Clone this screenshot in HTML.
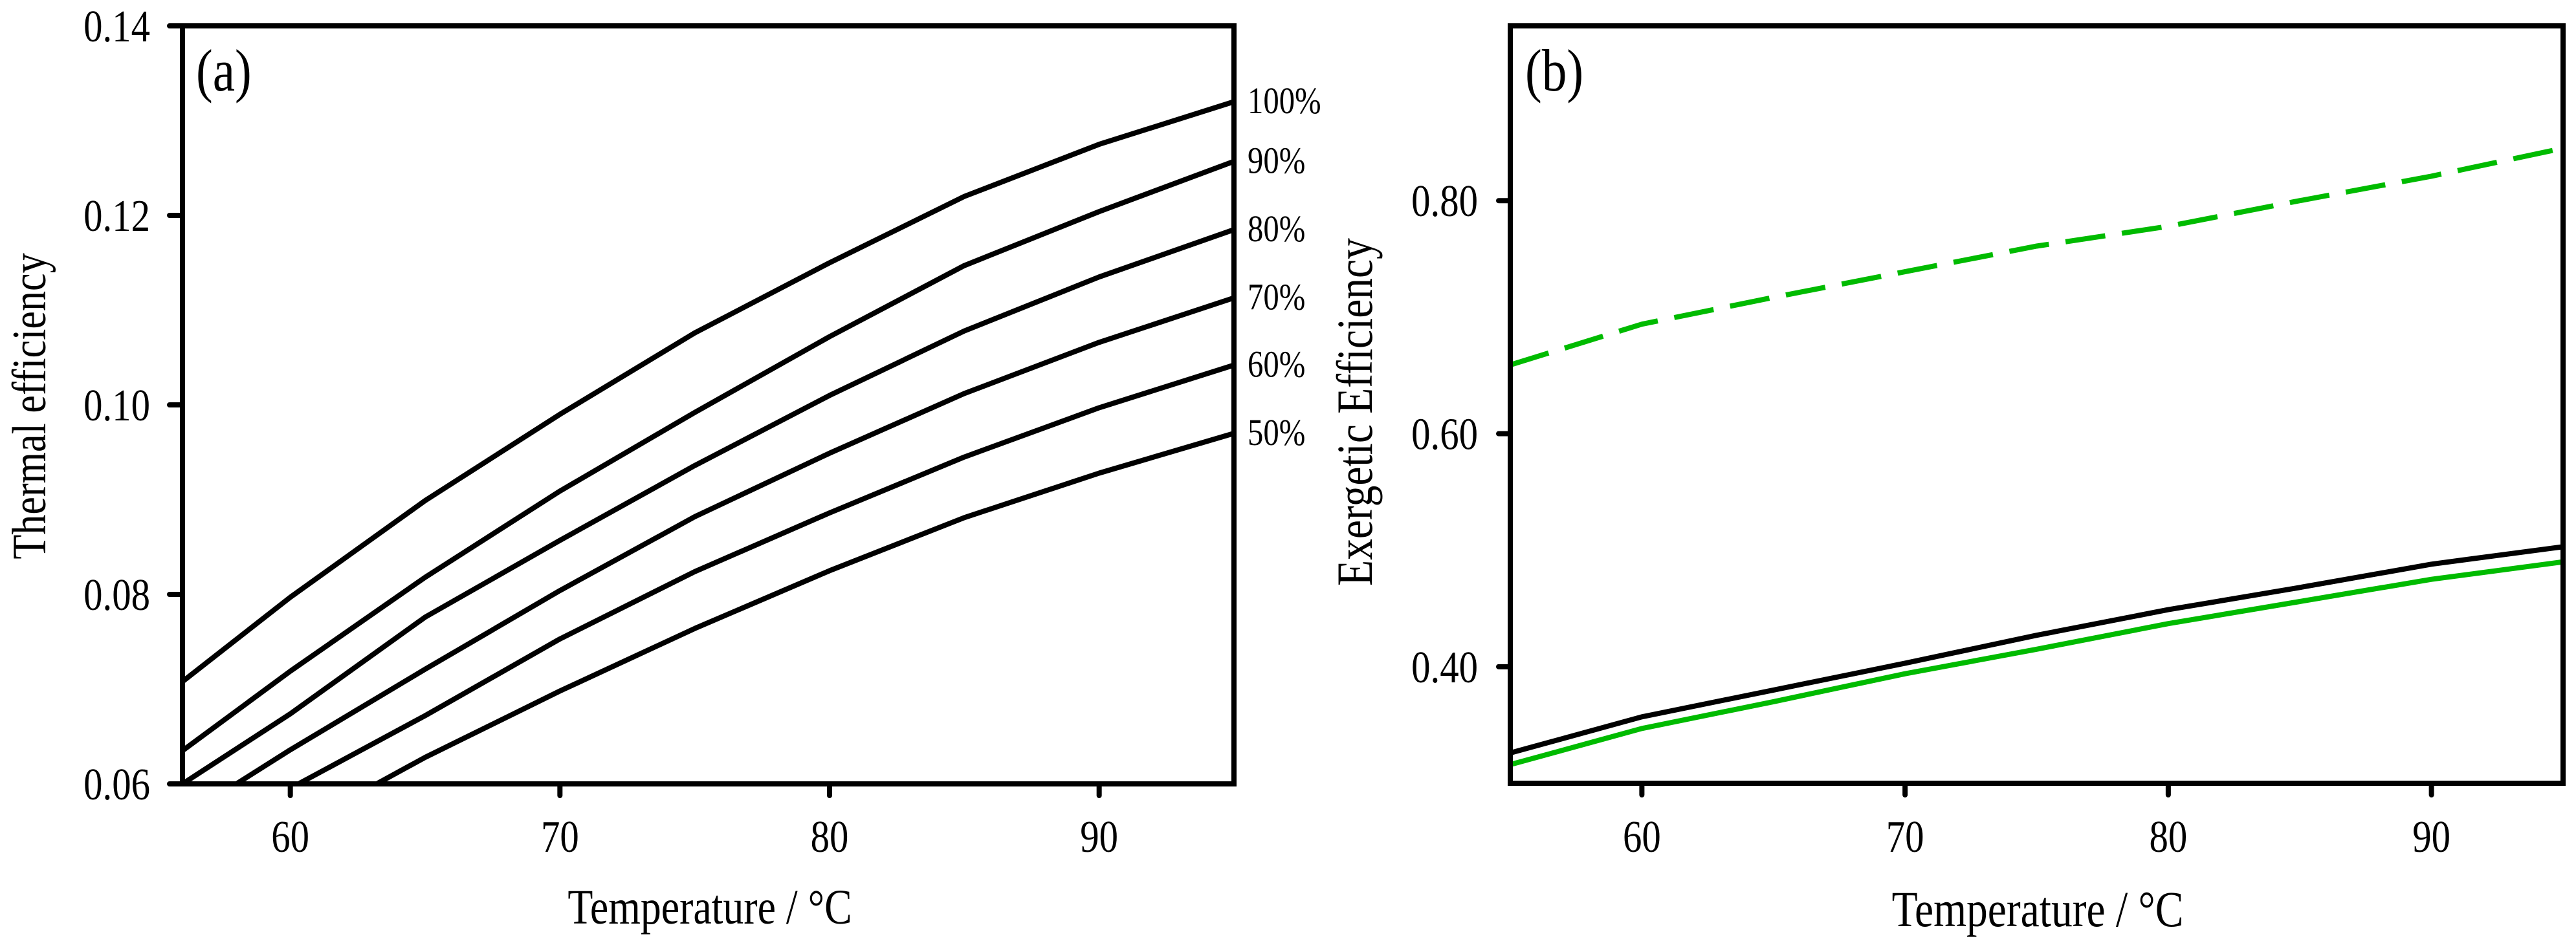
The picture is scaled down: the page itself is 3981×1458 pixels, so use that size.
<!DOCTYPE html>
<html><head><meta charset="utf-8"><style>
html,body{margin:0;padding:0;background:#fff;}
svg{display:block;}
text{font-family:"Liberation Serif","Times New Roman",serif;}
</style></head><body>
<svg id="chart" width="3981" height="1458" viewBox="0 0 3981 1458" xmlns="http://www.w3.org/2000/svg">
<defs>
<clipPath id="clipA"><rect x="282" y="40" width="1625" height="1172"/></clipPath>
<clipPath id="clipB"><rect x="2334" y="40" width="1627" height="1171"/></clipPath>
</defs>
<g id="panelA"></g>
<g id="panelB"></g>
</svg>
<script>
// ---- Panel (a) data ----
const aXTicks = [60, 70, 80, 90];
const aYTicks = [0.06, 0.08, 0.10, 0.12, 0.14];
const aYTickLabels = ["0.06", "0.08", "0.10", "0.12", "0.14"];
const aSeriesNames = ["100%", "90%", "80%", "70%", "60%", "50%"];
const aX100 = [56, 60, 65, 70, 75, 80, 85, 90, 95];
const aY100 = [0.0708, 0.0797, 0.0899, 0.0990, 0.1076, 0.1150, 0.1220, 0.1275, 0.1320];
const aX90 = [56, 60, 65, 70, 75, 80, 85, 90, 95];
const aY90 = [0.0635, 0.0719, 0.0818, 0.0909, 0.0992, 0.1072, 0.1147, 0.1204, 0.1257];
const aX80 = [56, 60, 65, 70, 75, 80, 85, 90, 95];
const aY80 = [0.0600, 0.0674, 0.0776, 0.0857, 0.0936, 0.1010, 0.1078, 0.1135, 0.1185];
const aX70 = [58, 60, 65, 70, 75, 80, 85, 90, 95];
const aY70 = [0.0600, 0.0636, 0.0721, 0.0804, 0.0882, 0.0949, 0.1012, 0.1066, 0.1113];
const aX60 = [60.3, 65, 70, 75, 80, 85, 90, 95];
const aY60 = [0.0600, 0.0672, 0.0753, 0.0824, 0.0886, 0.0945, 0.0997, 0.1042];
const aX50 = [63.2, 65, 70, 75, 80, 85, 90, 95];
const aY50 = [0.0600, 0.0628, 0.0698, 0.0764, 0.0825, 0.0881, 0.0928, 0.0970];

// ---- Panel (b) data ----
const bXTicks = [60, 70, 80, 90];
const bYTicks = [0.40, 0.60, 0.80];
const bYTickLabels = ["0.40", "0.60", "0.80"];
const bX = [55, 60, 65, 70, 75, 80, 85, 90, 95];
const bGreenDashed = [0.659, 0.694, 0.717, 0.739, 0.761, 0.778, 0.800, 0.821, 0.845];
const bBlack = [0.326, 0.357, 0.380, 0.403, 0.427, 0.449, 0.468, 0.488, 0.503];
const bGreenSolid = [0.316, 0.347, 0.370, 0.394, 0.415, 0.437, 0.456, 0.475, 0.490];

const NS = "http://www.w3.org/2000/svg";
const SX = 0.84;
function mk(parent, tag, attrs, text) {
  const e = document.createElementNS(NS, tag);
  for (const k in attrs) e.setAttribute(k, attrs[k]);
  if (text !== undefined) e.textContent = text;
  parent.appendChild(e);
  return e;
}
function txt(parent, x, y, size, anchor, s, rot) {
  const tr = 'translate(' + x + ',' + y + ')' + (rot ? ' rotate(-90)' : '') + ' scale(' + SX + ',1)';
  return mk(parent, 'text', {x: 0, y: 0, 'font-size': size, 'text-anchor': anchor, transform: tr,
    'font-family': '"Liberation Serif","Times New Roman",serif'}, s);
}
function lin(d0, d1, r0, r1) { return v => r0 + (v - d0) / (d1 - d0) * (r1 - r0); }

// ===== Panel A =====
const A = document.getElementById('panelA');
const ax = lin(56, 95, 282, 1907), ay = lin(0.06, 0.14, 1212, 40);
const aSeriesX = [aX100, aX90, aX80, aX70, aX60, aX50];
const aSeriesY = [aY100, aY90, aY80, aY70, aY60, aY50];
const aLines = mk(A, 'g', {'clip-path': 'url(#clipA)'});
aSeriesX.forEach((xs, i) => {
  const pts = xs.map((x, j) => ax(x).toFixed(1) + ',' + ay(aSeriesY[i][j]).toFixed(1)).join(' ');
  const p = mk(aLines, 'polyline', {points: pts, fill: 'none', stroke: '#000', 'stroke-width': 8, 'stroke-linejoin': 'round'});
  
  
  const lbl = txt(A, 1928, ay(aSeriesY[i][aSeriesY[i].length - 1]) + 18, 58, 'start', aSeriesNames[i]);
  
  
});
const aFrame = mk(A, 'rect', {x: 282, y: 40, width: 1625, height: 1172, fill: 'none', stroke: '#000', 'stroke-width': 8});


aYTicks.forEach((v, i) => {
  const y = ay(v);
  const t = mk(A, 'line', {x1: 262, x2: 282, y1: y, y2: y, stroke: '#000', 'stroke-width': 8, 'stroke-linecap': 'round'});
  
  
  const l = txt(A, 232, y + 24, 70, 'end', aYTickLabels[i]);
  
  
});
aXTicks.forEach(v => {
  const x = ax(v);
  const t = mk(A, 'line', {x1: x, x2: x, y1: 1212, y2: 1230, stroke: '#000', 'stroke-width': 8, 'stroke-linecap': 'round'});
  
  
  const l = txt(A, x, 1317, 70, 'middle', String(v));
  
  
});
const aXT = txt(A, 1097, 1428, 76, 'middle', 'Temperature / °C');


const aYT = txt(A, 70, 628, 74, 'middle', 'Thermal efficiency', true);


const aTag = txt(A, 303, 140, 92, 'start', '(a)');



// ===== Panel B =====
const B = document.getElementById('panelB');
const bx = lin(55, 95, 2334, 3961), by = lin(0.30, 0.95, 1211, 40);
const bLines = mk(B, 'g', {'clip-path': 'url(#clipB)'});
function bPts(vals) { return bX.map((x, j) => bx(x).toFixed(1) + ',' + by(vals[j]).toFixed(1)).join(' '); }
const gd = mk(bLines, 'polyline', {points: bPts(bGreenDashed), fill: 'none', stroke: '#00bb00', 'stroke-width': 8, 'stroke-dasharray': '62 26'});


const bk = mk(bLines, 'polyline', {points: bPts(bBlack), fill: 'none', stroke: '#000', 'stroke-width': 8, 'stroke-linejoin': 'round'});


const gs = mk(bLines, 'polyline', {points: bPts(bGreenSolid), fill: 'none', stroke: '#00bb00', 'stroke-width': 8, 'stroke-linejoin': 'round'});


const bFrame = mk(B, 'rect', {x: 2334, y: 40, width: 1627, height: 1171, fill: 'none', stroke: '#000', 'stroke-width': 8});


bYTicks.forEach((v, i) => {
  const y = by(v);
  const t = mk(B, 'line', {x1: 2316, x2: 2334, y1: y, y2: y, stroke: '#000', 'stroke-width': 8, 'stroke-linecap': 'round'});
  
  
  const l = txt(B, 2284, y + 24, 70, 'end', bYTickLabels[i]);
  
  
});
bXTicks.forEach(v => {
  const x = bx(v);
  const t = mk(B, 'line', {x1: x, x2: x, y1: 1211, y2: 1229, stroke: '#000', 'stroke-width': 8, 'stroke-linecap': 'round'});
  
  
  const l = txt(B, x, 1317, 70, 'middle', String(v));
  
  
});
const bXT = txt(B, 3149, 1432, 78, 'middle', 'Temperature / °C');


const bYT = txt(B, 2120, 637, 78, 'middle', 'Exergetic Efficiency', true);


const bTag = txt(B, 2357, 140, 92, 'start', '(b)');


</script>
</body></html>
